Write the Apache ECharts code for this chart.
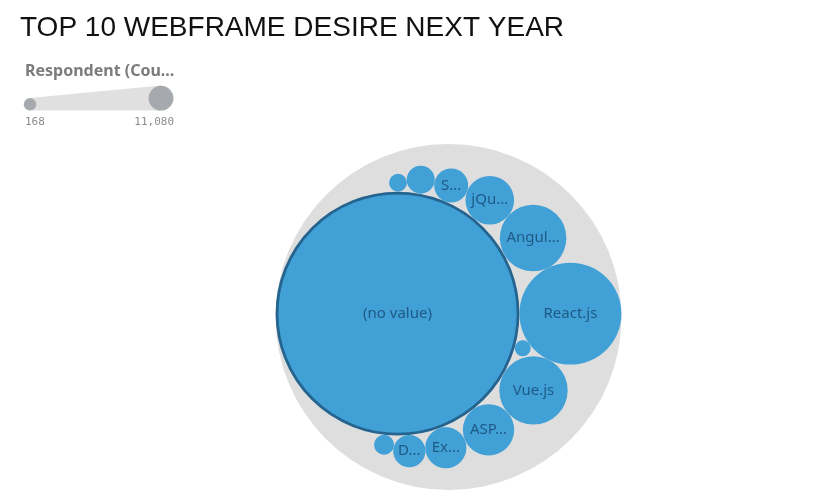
<!DOCTYPE html>
<html>
<head>
<meta charset="utf-8">
<script src="https://cdn.jsdelivr.net/npm/echarts@6/dist/echarts.min.js"></script>
<style>
  html, body { margin: 0; padding: 0; background: #ffffff; }
  #chart { width: 822px; height: 503px; }
</style>
</head>
<body>
<div id="chart"></div>
<script>
// ---- data ----
const chartTitle = 'TOP 10 WEBFRAME DESIRE NEXT YEAR';
const sizeLabel = 'Respondent (Count)';
const frameworks = ['(no value)', 'React.js', 'Vue.js', 'Angular/Angular.js', 'ASP.NET', 'jQuery',
                    'Express', 'Spring', 'Django', 'Flask', 'Laravel', 'Ruby on Rails', 'Drupal'];
const counts = [11080, 2036, 982, 937, 607, 556, 433, 334, 312, 265, 194, 180, 168];

// ---- greedy circle packing: each bubble (largest first) goes to the free spot touching two
// placed bubbles that lies closest to the area-weighted centre of the bubbles placed so far ----
function packBubbles(circles) {
  const placed = [];
  let sa = 0, sx = 0, sy = 0;
  const add = c => { placed.push(c); const a = c.r * c.r; sa += a; sx += a * c.x; sy += a * c.y; };
  circles[0].x = 0; circles[0].y = 0; add(circles[0]);
  if (circles.length > 1) { circles[1].x = circles[0].r + circles[1].r; circles[1].y = 0; add(circles[1]); }
  for (let i = 2; i < circles.length; i++) {
    const c = circles[i], gx = sx / sa, gy = sy / sa;
    let best = null, bestD = Infinity;
    for (let p = 0; p < placed.length; p++) {
      for (let q = p + 1; q < placed.length; q++) {
        const A = placed[p], B = placed[q];
        const dx = B.x - A.x, dy = B.y - A.y, d = Math.hypot(dx, dy);
        const ra = A.r + c.r, rb = B.r + c.r;
        if (d === 0 || d > ra + rb || d < Math.abs(ra - rb)) continue;
        const a = (ra * ra - rb * rb + d * d) / (2 * d);
        const h = Math.sqrt(Math.max(0, ra * ra - a * a));
        const ux = dx / d, uy = dy / d;
        for (const sg of [1, -1]) {
          const x = A.x + a * ux - sg * h * uy, y = A.y + a * uy + sg * h * ux;
          let ok = true;
          for (const k of placed) {
            const rr = k.r + c.r;
            if (Math.hypot(x - k.x, y - k.y) < rr * (1 - 1e-7)) { ok = false; break; }
          }
          if (!ok) continue;
          const dd = (x - gx) * (x - gx) + (y - gy) * (y - gy);
          if (dd < bestD - 1e-9) { bestD = dd; best = [x, y]; }
        }
      }
    }
    c.x = best[0]; c.y = best[1]; add(c);
  }
  // centre on the bounding box, enclosing radius around that centre
  let x0 = Infinity, x1 = -Infinity, y0 = Infinity, y1 = -Infinity;
  for (const c of circles) {
    x0 = Math.min(x0, c.x - c.r); x1 = Math.max(x1, c.x + c.r);
    y0 = Math.min(y0, c.y - c.r); y1 = Math.max(y1, c.y + c.r);
  }
  const cx = (x0 + x1) / 2, cy = (y0 + y1) / 2;
  let R = 0;
  for (const c of circles) { c.x -= cx; c.y -= cy; R = Math.max(R, c.r + Math.hypot(c.x, c.y)); }
  return R;
}

// bubble area grows linearly with the count, from the smallest bubble to the largest
const minRadiusRatio = 0.0656;
const vMin = Math.min(...counts), vMax = Math.max(...counts);
function bubbleRadius(v) {
  const m2 = minRadiusRatio * minRadiusRatio, f = (v - vMin) / (vMax - vMin);
  return 100 * Math.sqrt(m2 + (1 - m2) * f);
}
const circles = frameworks.map((name, i) => ({ name, value: counts[i], r: bubbleRadius(counts[i]) }))
  .sort((p, q) => q.value - p.value);
const rootR = packBubbles(circles);
const leafData = circles.map(c => [c.x, c.y, c.r, c.name, c.value]);
const rootData = [[0, 0, rootR, 'all', counts.reduce((s, v) => s + v, 0)]];
const fmt = v => v.toLocaleString('en-US');

const chart = echarts.init(document.getElementById('chart'), null, { renderer: 'canvas' });
const blue = '#41a0d6', labelColor = '#1f5a86';

function renderBubble(params, api) {
  const c = api.coord([api.value(0), api.value(1)]);
  const rr = api.size([api.value(2), 0])[0];
  const isRoot = params.seriesIndex === 0;
  const isBiggest = !isRoot && params.dataIndex === 0;
  const el = {
    type: 'circle',
    shape: { cx: c[0], cy: c[1], r: isBiggest ? rr - 1.4 : rr },
    style: isRoot ? { fill: '#dedede' }
      : { fill: blue, stroke: isBiggest ? '#24648f' : null, lineWidth: isBiggest ? 2.8 : 0 }
  };
  if (!isRoot && rr * 2 >= 30) {
    el.textContent = {
      style: {
        text: api.value(3), fill: labelColor, fontFamily: 'Noto Sans', fontSize: 15,
        width: rr * 2 - 10, overflow: 'truncate', ellipsis: '...'
      }
    };
    el.textConfig = { position: 'inside' };
  }
  return el;
}

chart.setOption({
  animation: false,
  title: {
    text: chartTitle, left: 20, top: 14, padding: 0,
    textStyle: { fontFamily: 'Liberation Sans', fontSize: 28, fontWeight: 'normal', color: '#111111' }
  },
  grid: { left: 275.5, top: 144, width: 346, height: 346 },
  xAxis: { type: 'value', min: -rootR, max: rootR, show: false },
  yAxis: { type: 'value', min: -rootR, max: rootR, inverse: true, show: false },
  series: [
    { type: 'custom', coordinateSystem: 'cartesian2d', data: rootData, renderItem: renderBubble, silent: true },
    { type: 'custom', coordinateSystem: 'cartesian2d', data: leafData, renderItem: renderBubble }
  ],
  graphic: [
    { type: 'text', left: 25, top: 63,
      style: { text: sizeLabel, width: 156, overflow: 'truncate', ellipsis: '...',
               fontFamily: 'Noto Sans', fontWeight: 'bold', fontSize: 16, fill: '#7b7b7b' } },
    { type: 'polygon', shape: { points: [[30, 98], [161, 85.5], [161, 110.5], [30, 110.5]] }, style: { fill: '#e0e0e0' } },
    { type: 'circle', shape: { cx: 30, cy: 104.3, r: 6.2 }, style: { fill: '#a6a9ae' } },
    { type: 'circle', shape: { cx: 161, cy: 98.2, r: 12.4 }, style: { fill: '#a6a9ae' } },
    { type: 'text', left: 25, top: 117,
      style: { text: fmt(vMin), fontFamily: 'DejaVu Sans Mono', fontSize: 11, fill: '#8c8c8c' } },
    { type: 'text', right: 822 - 174, top: 117,
      style: { text: fmt(vMax), fontFamily: 'DejaVu Sans Mono', fontSize: 11, fill: '#8c8c8c' } }
  ]
});
</script>
</body>
</html>
